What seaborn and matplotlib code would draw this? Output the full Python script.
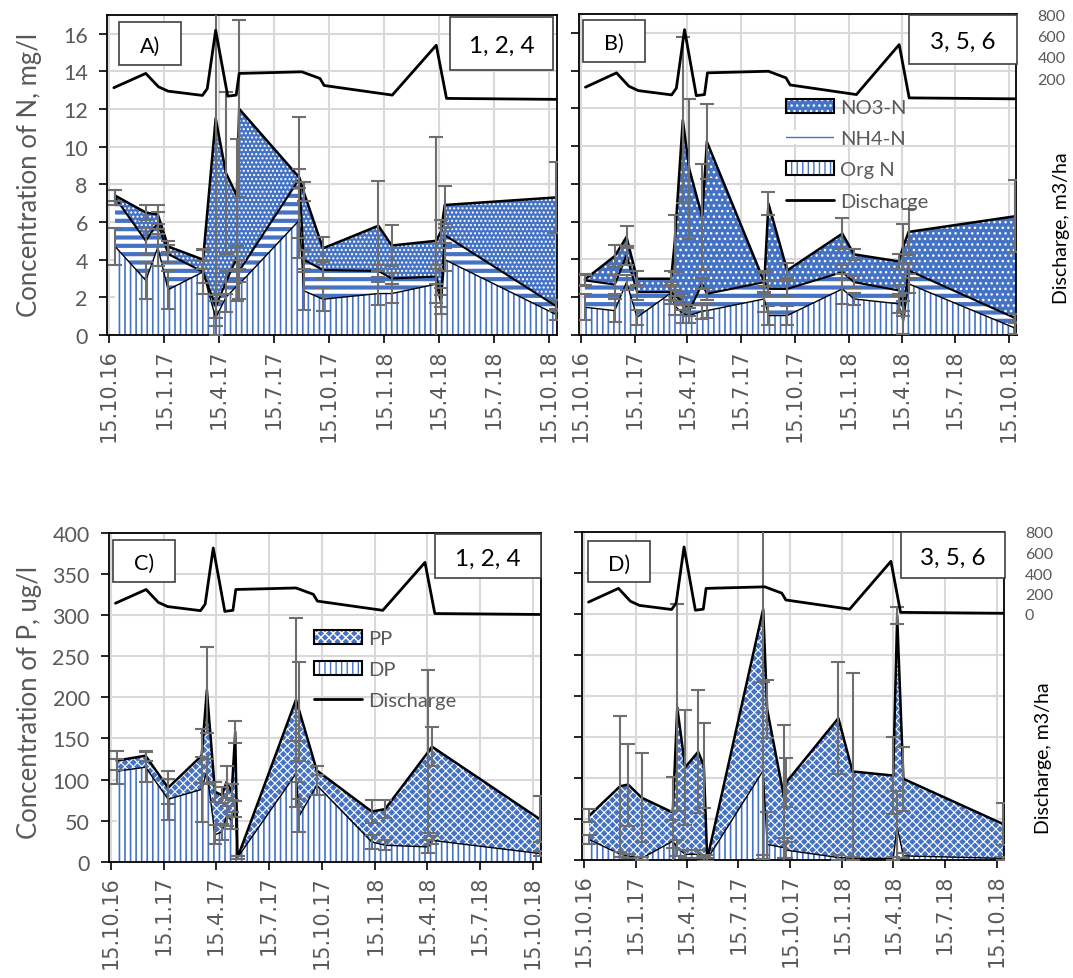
import matplotlib
matplotlib.use('Agg')
import matplotlib.pyplot as plt
from matplotlib.patches import Patch, Rectangle
from matplotlib.lines import Line2D
import numpy as np
import pandas as pd
import seaborn as sns

# ---------------- data ----------------
tick_dates = ['2016-10-15', '2017-01-15', '2017-04-15', '2017-07-15', '2017-10-15',
              '2018-01-15', '2018-04-15', '2018-07-15', '2018-10-15']
tick_labels = ['15.10.16', '15.1.17', '15.4.17', '15.7.17', '15.10.17',
               '15.1.18', '15.4.18', '15.7.18', '15.10.18']

# discharge, m3/ha (same in all panels)
q_dates = ['2016-10-23', '2016-12-15', '2017-01-05', '2017-01-21', '2017-03-19', '2017-03-27',
           '2017-04-10', '2017-04-30', '2017-05-14', '2017-05-19', '2017-08-31', '2017-09-30',
           '2017-10-07', '2018-01-28', '2018-04-11', '2018-04-28', '2018-10-26']
q_vals = [116, 250, 125, 84, 44, 107, 654, 37, 47, 250, 265, 203, 137, 47, 514, 16, 7]

# A) N, fields 1, 2, 4
a_dates = ['2016-10-25', '2016-12-15', '2017-01-04', '2017-01-21', '2017-03-20', '2017-04-10',
           '2017-04-27', '2017-05-15', '2017-05-19', '2017-08-27', '2017-09-03', '2017-10-05',
           '2018-01-05', '2018-01-27', '2018-04-11', '2018-04-19', '2018-04-25', '2018-10-26']
a_org = [4.7, 2.9, 4.65, 2.4, 3.35, 0.9, 2.0, 2.6, 2.7, 6.1, 2.35, 1.9, 2.2, 2.2, 2.7, 1.6, 4.0, 1.1]
a_nh4 = [2.6, 2.1, 1.3, 1.9, 0.0, 0.6, 0.8, 1.5, 0.7, 2.2, 1.65, 1.55, 1.2, 0.8, 0.4, 0.4, 1.3, 0.45]
a_no3 = [0.1, 1.5, 0.45, 0.4, 0.65, 10.0, 5.8, 3.3, 8.6, 0.05, 3.6, 1.15, 2.4, 1.75, 1.9, 3.5, 1.6, 5.75]
a_org_err = [1.0, 1.0, 1.0, 1.0, 1.2, 0.9, 0.8, 0.8, 0.8, 2.0, 1.0, 0.6, 0.6, 0.5, 1.0, 0.5, 0.6, 0.3]
a_nh4_err = [0.4, 0.7, 0.6, 0.5, 0.6, 0.6, 0.6, 0.6, 0.6, 0.5, 0.5, 0.4, 0.3, 0.3, 0.4, 0.5, 0.4, 0.3]
a_no3_err = [0.3, 0.4, 0.5, 0.3, 0.5, 11.0, 4.3, 3.0, 4.7, 3.2, 0.5, 0.6, 2.4, 1.1, 5.5, 0.6, 1.0, 1.9]

# B) N, fields 3, 5, 6
b_dates = ['2016-10-22', '2016-12-12', '2017-01-01', '2017-01-19', '2017-03-18', '2017-03-24',
           '2017-04-07', '2017-04-18', '2017-05-10', '2017-05-18', '2017-08-24', '2017-08-31',
           '2017-10-02', '2018-01-04', '2018-01-24', '2018-04-10', '2018-04-18', '2018-04-27',
           '2018-10-26']
b_org = [1.47, 1.29, 2.8, 0.94, 2.23, 1.56, 1.13, 1.03, 1.26, 1.29, 1.91, 1.03, 1.03, 2.44, 1.91,
         1.65, 0.67, 2.71, 0.36]
b_nh4 = [1.42, 1.38, 1.42, 1.33, 0.04, 0.54, 0.62, 0.26, 1.45, 0.89, 0.89, 1.41, 1.41, 0.89, 0.89,
         0.71, 0.71, 0.71, 0.53]
b_no3 = [0.05, 1.51, 0.97, 0.71, 0.71, 2.74, 9.64, 7.51, 3.55, 8.06, 0.0, 4.52, 0.98, 2.04, 1.47,
         1.54, 3.32, 2.04, 5.4]
b_org_err = [0.7, 0.6, 0.4, 0.4, 0.6, 0.5, 0.5, 0.4, 0.4, 0.4, 0.7, 0.5, 0.5, 0.8, 0.3, 0.5, 0.6, 0.5, 0.3]
b_nh4_err = [0.3, 0.5, 0.5, 0.4, 0.4, 0.3, 0.4, 0.3, 0.3, 0.3, 0.5, 0.4, 0.4, 0.4, 0.3, 0.3, 0.4, 0.4, 0.2]
b_no3_err = [0.3, 0.6, 0.6, 0.4, 0.4, 1.5, 4.4, 3.7, 2.8, 2.0, 0.6, 0.6, 0.4, 0.8, 0.3, 0.4, 1.2, 1.2, 1.9]

# C) P, fields 1, 2, 4
c_dates = ['2016-10-25', '2016-12-14', '2017-01-22', '2017-03-21', '2017-03-30', '2017-04-13',
           '2017-04-25', '2017-05-03', '2017-05-12', '2017-05-18', '2017-05-22', '2017-08-31',
           '2017-09-06', '2017-10-06', '2018-01-09', '2018-02-01', '2018-04-17', '2018-04-23',
           '2018-10-26']
c_dp = [110, 115, 76, 88, 110, 33, 36, 56, 50, 64, 5, 107, 56, 93, 24, 20, 18, 26, 10]
c_pp = [13, 14, 14, 41, 99, 52, 45, 41, 35, 94, 0, 90, 127, 18, 37, 44, 116, 114, 42]
c_dp_err = [15, 18, 25, 40, 15, 12, 10, 12, 10, 10, 2, 40, 20, 12, 8, 6, 8, 5, 3]
c_pp_err = [12, 6, 20, 33, 52, 12, 10, 19, 10, 13, 2, 100, 60, 6, 14, 11, 99, 24, 28]

# D) P, fields 3, 5, 6
d_dates = ['2016-10-24', '2016-12-18', '2017-01-01', '2017-01-25', '2017-03-21', '2017-03-29',
           '2017-04-12', '2017-05-05', '2017-05-15', '2017-05-21', '2017-08-28', '2017-09-04',
           '2017-10-04', '2017-10-08', '2018-01-08', '2018-02-02', '2018-04-15', '2018-04-22',
           '2018-05-03', '2018-10-26']
d_dp = [25, 7, 5, 2, 23, 15, 7, 7, 2, 1, 109, 19, 15, 12, 3, 2, 2, 40, 5, 2]
d_pp = [29, 83, 87, 74, 35, 171, 106, 125, 113, 0, 197, 165, 61, 83, 170, 106, 101, 258, 94, 42]
d_dp_err = [5, 3, 2, 2, 26, 10, 5, 5, 3, 2, 108, 40, 12, 10, 3, 2, 2, 44, 3, 2]
d_pp_err = [8, 86, 50, 54, 43, 126, 70, 75, 52, 5, 300, 35, 89, 30, 68, 120, 47, 10, 39, 26]

# ---------------- style ----------------
BLUE = '#4472C4'
GRID = '#d9d9d9'
TXT = '#595959'
ERRC = '#6e6e6e'
W, H = 1073, 979
XLIM = (pd.Timestamp('2016-10-12'), pd.Timestamp('2018-10-28'))

sns.set_theme(style="white")
plt.rcParams['font.family'] = ['Lato', 'DejaVu Sans']

fig = plt.figure(figsize=(W / 100, H / 100), dpi=100)


def px_rect(l, t, r, b):
    return [l / W, 1 - b / H, (r - l) / W, (b - t) / H]


def hfill(ax, x, lo, hi, face, hcol, hatch, hlw):
    with plt.rc_context({'hatch.linewidth': hlw}):
        coll = ax.fill_between(x, lo, hi, facecolor=face, edgecolor=hcol, hatch=hatch,
                               linewidth=0, zorder=1)
    if hasattr(coll, 'set_hatch_linewidth'):
        coll.set_hatch_linewidth(hlw)
    return coll


def style_axes(ax, ylim, yticks, show_left):
    ax.set_xlim(XLIM)
    ax.set_ylim(ylim)
    ax.set_yticks(yticks)
    ax.set_xticks(pd.to_datetime(tick_dates))
    ax.set_xticklabels(tick_labels, rotation=90, fontsize=15, color=TXT, family='DejaVu Sans')
    ax.grid(True, color=GRID, lw=1.5)
    ax.set_axisbelow(True)
    ax.tick_params(axis='both', direction='out', length=6, width=1.2, color='black',
                   bottom=True, left=True)
    ax.tick_params(axis='y', labelsize=15.5, labelcolor=TXT, labelleft=show_left, pad=8)
    ax.set_xlabel('')
    ax.set_ylabel('')
    for s in ax.spines.values():
        s.set_visible(True)
        s.set_color('black')
        s.set_linewidth(1.3)


def discharge(ax, ylim, ticks):
    ax2 = ax.twinx()
    sns.lineplot(x=pd.to_datetime(q_dates), y=q_vals, ax=ax2, color='black', lw=2, sort=False)
    ax2.set_ylim(ylim)
    ax2.set_yticks(ticks)
    ax2.tick_params(axis='y', length=0, pad=15, labelsize=11.5, labelcolor=TXT,
                    right=False, labelright=len(ticks) > 0)
    ax2.set_ylabel('')
    ax2.grid(False)
    for s in ax2.spines.values():
        s.set_visible(False)
    ax2.set_xlim(XLIM)
    return ax2


def n_panel(ax, dates, org, nh4, no3, e_org, e_nh4, e_no3, dots):
    d = pd.to_datetime(dates)
    o = np.array(org)
    m = o + np.array(nh4)
    t = m + np.array(no3)
    hfill(ax, d, 0, o, 'white', BLUE, '|||', 1.2)
    hfill(ax, d, o, m, 'white', BLUE, '--', 3.0)
    hfill(ax, d, m, t, BLUE, 'white', dots, 1.0)
    for y, lw in ((o, 1.0), (m, 1.5), (t, 1.8)):
        sns.lineplot(x=d, y=y, ax=ax, color='black', lw=lw, sort=False, zorder=2)
    for y, e in ((o, e_org), (m, e_nh4), (t, e_no3)):
        ax.errorbar(d, y, yerr=e, fmt='none', ecolor=ERRC, elinewidth=1.5,
                    capsize=5, capthick=1.5, zorder=3)


def p_panel(ax, dates, dp, pp, e_dp, e_pp):
    d = pd.to_datetime(dates)
    lo = np.array(dp)
    t = lo + np.array(pp)
    hfill(ax, d, 0, lo, 'white', BLUE, '|||', 1.2)
    hfill(ax, d, lo, t, BLUE, 'white', 'xxxx', 0.8)
    for y, lw in ((lo, 1.0), (t, 1.8)):
        sns.lineplot(x=d, y=y, ax=ax, color='black', lw=lw, sort=False, zorder=2)
    for y, e in ((lo, e_dp), (t, e_pp)):
        ax.errorbar(d, y, yerr=e, fmt='none', ecolor=ERRC, elinewidth=1.5,
                    capsize=5, capthick=1.5, zorder=3)


def tag_box(l, t, r, b, text, size):
    fig.patches.append(Rectangle((l / W, 1 - b / H), (r - l) / W, (b - t) / H,
                                 transform=fig.transFigure, facecolor='white',
                                 edgecolor='#404040', lw=1.2, zorder=5))
    fig.text((l + r) / 2 / W, 1 - ((t + b) / 2 + 2) / H, text, ha='center', va='center',
             fontsize=size, color='black', zorder=6)


axA = fig.add_axes(px_rect(107.2, 15.7, 556.8, 336))
axB = fig.add_axes(px_rect(579.0, 15.0, 1016.5, 336))
axC = fig.add_axes(px_rect(109.1, 534.0, 540.7, 862.7))
axD = fig.add_axes(px_rect(582.3, 533.0, 1004.0, 861.0))

n_panel(axA, a_dates, a_org, a_nh4, a_no3, a_org_err, a_nh4_err, a_no3_err, '....')
n_panel(axB, b_dates, b_org, b_nh4, b_no3, b_org_err, b_nh4_err, b_no3_err, '...')
p_panel(axC, c_dates, c_dp, c_pp, c_dp_err, c_pp_err)
p_panel(axD, d_dates, d_dp, d_pp, d_dp_err, d_pp_err)

style_axes(axA, (0, 17), range(0, 17, 2), True)
style_axes(axB, (0, 17), range(0, 17, 2), False)
style_axes(axC, (0, 400), range(0, 401, 50), True)
style_axes(axD, (0, 400), range(0, 401, 50), False)

discharge(axA, (-2200, 800), [])
discharge(axB, (-2200, 800), [200, 400, 600, 800])
discharge(axC, (-2400, 800), [])
discharge(axD, (-2400, 800), [0, 200, 400, 600, 800])

# legends
edge = Patch(facecolor='none', edgecolor='black', lw=1.5)
with plt.rc_context({'hatch.linewidth': 1.0}):
    h_no3 = Patch(facecolor=BLUE, edgecolor='white', hatch='...', lw=0)
with plt.rc_context({'hatch.linewidth': 0.8}):
    h_pp = Patch(facecolor=BLUE, edgecolor='white', hatch='xxxx', lw=0)
with plt.rc_context({'hatch.linewidth': 3.0}):
    h_nh4 = Patch(facecolor='white', edgecolor=BLUE, hatch='--', lw=0)
with plt.rc_context({'hatch.linewidth': 1.2}):
    h_org = Patch(facecolor='white', edgecolor=BLUE, hatch='|||', lw=0)
h_q = Line2D([], [], color='black', lw=2)

leg_kw = dict(loc='upper left', frameon=False, borderpad=0, borderaxespad=0,
              handlelength=2.4, handleheight=0.7, handletextpad=0.3, labelspacing=0.7,
              fontsize=14.5, labelcolor=TXT)
fig.legend([(h_no3, edge), h_nh4, (h_org, edge), h_q], ['NO3-N', 'NH4-N', 'Org N', 'Discharge'],
           bbox_to_anchor=(786 / W, 1 - 100 / H), **leg_kw)
fig.legend([(h_pp, edge), (h_org, edge), h_q], ['PP', 'DP', 'Discharge'],
           bbox_to_anchor=(314 / W, 1 - 631 / H), **leg_kw)

# axis titles
fig.text(30 / W, 1 - 175 / H, 'Concentration of N, mg/l', rotation=90, ha='center', va='center',
         fontsize=18.5, color=TXT)
fig.text(30 / W, 1 - 703 / H, 'Concentration of P, ug/l', rotation=90, ha='center', va='center',
         fontsize=18.5, color=TXT)
fig.text(1062 / W, 1 - 228 / H, 'Discharge, m3/ha', rotation=90, ha='center', va='center',
         fontsize=14, color='black')
fig.text(1043 / W, 1 - 758 / H, 'Discharge, m3/ha', rotation=90, ha='center', va='center',
         fontsize=14, color='black')

# panel tags
tag_box(119, 23.3, 181, 65.7, 'A)', 15.5)
tag_box(450, 18.3, 552.7, 71, '1, 2, 4', 17.5)
tag_box(582.7, 20.7, 645, 62.7, 'B)', 15.5)
tag_box(909.3, 15.7, 1016.7, 65, '3, 5, 6', 17.5)
tag_box(113.3, 541, 175.3, 583.3, 'C)', 15.5)
tag_box(435, 535, 540.7, 579.3, '1, 2, 4', 17.5)
tag_box(588.3, 541.7, 650, 583.3, 'D)', 15.5)
tag_box(901, 532.7, 1005, 579.3, '3, 5, 6', 17.5)

fig.savefig('out.png', dpi=100, facecolor='white')
